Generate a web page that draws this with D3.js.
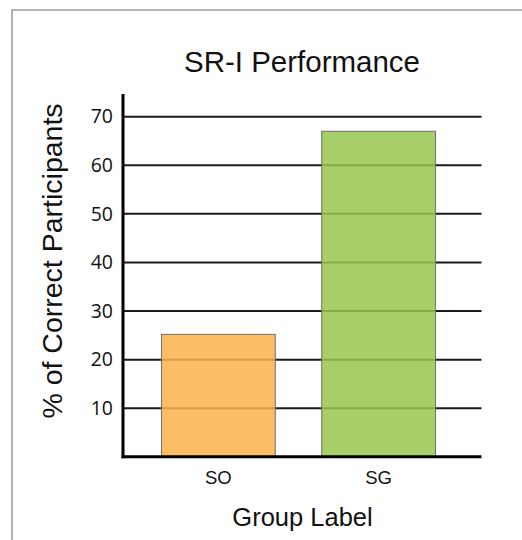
<!DOCTYPE html>
<html><head><meta charset="utf-8">
<script src="https://cdn.jsdelivr.net/npm/d3@7"></script>
<style>html,body{margin:0;padding:0;background:#fff;}svg{display:block;}</style>
</head><body>
<script>
const categories = ["SO", "SG"];
const values = [25.2, 67.0];
const colors = ["#FCB349", "#97C750"];
const yTicks = [10, 20, 30, 40, 50, 60, 70];
const title = "SR-I Performance";
const xTitle = "Group Label";
const yTitle = "% of Correct Participants";

const W = 522, H = 540;
const svg = d3.select("body").append("svg").attr("width", W).attr("height", H);

// frame
svg.append("rect").attr("x", 12).attr("y", 10).attr("width", 530).attr("height", 560)
  .attr("fill", "none").attr("stroke", "#9a9a9a").attr("stroke-width", 1.5);

const y = d3.scaleLinear().domain([0, 70]).range([456.8, 116.7]);
const x = d3.scaleBand().domain(categories).range([123, 474]).paddingInner(0.29).paddingOuter(0.24);

// gridlines
svg.append("g").selectAll("line").data(yTicks).join("line")
  .attr("x1", 123).attr("x2", 481.5)
  .attr("y1", d => y(d)).attr("y2", d => y(d))
  .attr("stroke", "#1a1a1a").attr("stroke-width", 2);

// bars
svg.append("g").selectAll("rect").data(values).join("rect")
  .attr("x", (d, i) => x(categories[i]))
  .attr("width", x.bandwidth())
  .attr("y", d => y(d))
  .attr("height", d => y(0) - y(d))
  .attr("fill", (d, i) => colors[i])
  .attr("fill-opacity", 0.85)
  .attr("stroke", "#6f6f6f").attr("stroke-width", 1);

// y tick labels
const yAxis = d3.axisLeft(y).tickValues(yTicks).tickSize(0).tickPadding(10);
const gy = svg.append("g").attr("transform", "translate(123,0)").call(yAxis);
gy.select(".domain").remove();
gy.selectAll("text").attr("font-family", "'Open Sans', sans-serif").attr("font-size", 19.5)
  .attr("fill", "#111");

// x tick labels
const xAxis = d3.axisBottom(x).tickSize(0).tickPadding(14);
const gx = svg.append("g").attr("transform", "translate(0,456.8)").call(xAxis);
gx.select(".domain").remove();
gx.selectAll("text").attr("font-family", "'Liberation Sans', Arial, sans-serif").attr("font-size", 18.5)
  .attr("fill", "#111");

// axis lines
svg.append("line").attr("x1", 123).attr("x2", 123).attr("y1", 94).attr("y2", 458.3)
  .attr("stroke", "#000").attr("stroke-width", 3);
svg.append("line").attr("x1", 121.5).attr("x2", 481.5).attr("y1", 456.8).attr("y2", 456.8)
  .attr("stroke", "#000").attr("stroke-width", 3);

// titles
svg.append("text").attr("x", 302).attr("y", 72).attr("text-anchor", "middle")
  .attr("font-family", "'Liberation Sans', Arial, sans-serif").attr("font-size", 29.5)
  .attr("fill", "#111").text(title);
svg.append("text").attr("x", 302.5).attr("y", 526).attr("text-anchor", "middle")
  .attr("font-family", "'Liberation Sans', Arial, sans-serif").attr("font-size", 25.5)
  .attr("fill", "#111").text(xTitle);
svg.append("text").attr("transform", "translate(62,261) rotate(-90)").attr("text-anchor", "middle")
  .attr("font-family", "'Liberation Sans', Arial, sans-serif").attr("font-size", 28.5)
  .attr("fill", "#111").text(yTitle);
</script>
</body></html>
